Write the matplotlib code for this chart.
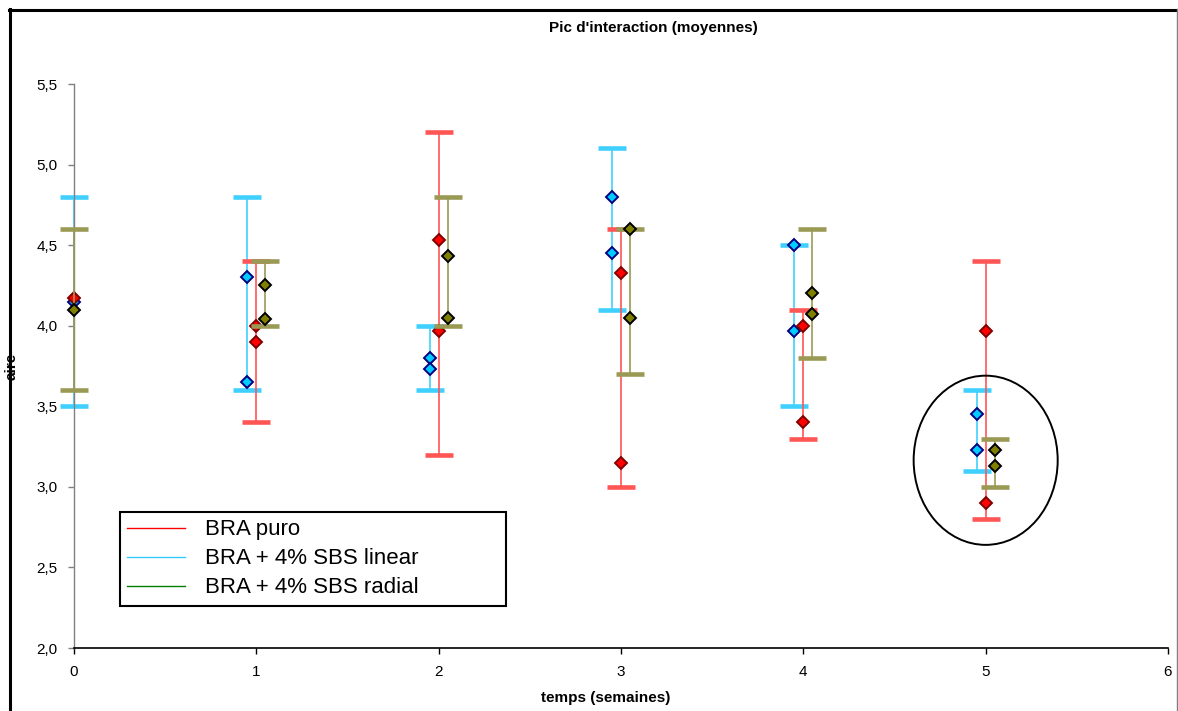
import matplotlib
matplotlib.use("Agg")
import matplotlib.pyplot as plt
import numpy as np
from matplotlib.lines import Line2D
from matplotlib.patches import Ellipse
from matplotlib.ticker import FuncFormatter, FixedLocator

plt.rcParams['font.family'] = ['Liberation Sans', 'DejaVu Sans']

# ---------------- data ----------------
weeks = [0, 1, 2, 3, 4, 5]
series_names = ["BRA puro", "BRA + 4% SBS linear", "BRA + 4% SBS radial"]

# BRA puro (red)
red_m1 = [4.17, 4.00, 4.53, 4.33, 4.00, 3.97]
red_m2 = [np.nan, 3.90, 3.97, 3.15, 3.40, 2.90]
red_hi = [np.nan, 4.40, 5.20, 4.60, 4.10, 4.40]
red_lo = [np.nan, 3.40, 3.20, 3.00, 3.30, 2.80]

# BRA + 4% SBS linear (cyan)
cyan_m1 = [4.15, 4.30, 3.80, 4.80, 4.50, 3.45]
cyan_m2 = [np.nan, 3.65, 3.73, 4.45, 3.97, 3.23]
cyan_hi = [4.80, 4.80, 4.00, 5.10, 4.50, 3.60]
cyan_lo = [3.50, 3.60, 3.60, 4.10, 3.50, 3.10]

# BRA + 4% SBS radial (olive)
olive_m1 = [4.10, 4.25, 4.43, 4.60, 4.20, 3.23]
olive_m2 = [np.nan, 4.04, 4.05, 4.05, 4.07, 3.13]
olive_hi = [4.60, 4.40, 4.80, 4.60, 4.60, 3.30]
olive_lo = [3.60, 4.00, 4.00, 3.70, 3.80, 3.00]

y_ticks = [2.0, 2.5, 3.0, 3.5, 4.0, 4.5, 5.0, 5.5]
x_ticks = [0, 1, 2, 3, 4, 5, 6]

# ---------------- figure ----------------
W, H = 1178, 711
fig = plt.figure(figsize=(W / 100, H / 100), dpi=100)
ax = fig.add_axes([74 / W, 1 - 648 / H, (1168 - 74) / W, (648 - 84) / H])

styles = [
    # name, m1, m2, hi, lo, offset, cap color, bar color, face, edge
    (series_names[1], cyan_m1, cyan_m2, cyan_hi, cyan_lo, -0.05,
     '#00CCFF', '#40D0FF', '#00CCFF', '#000080'),
    (series_names[0], red_m1, red_m2, red_hi, red_lo, 0.0,
     '#FF0000', '#FF5555', '#FF0000', '#800000'),
    (series_names[2], olive_m1, olive_m2, olive_hi, olive_lo, 0.05,
     '#808000', '#9A9A55', '#808000', '#000000'),
]

z = 2
for name, m1, m2, hi, lo, off, capc, barc, face, edge in styles:
    xs = np.array([w + off if w > 0 else w for w in weeks], dtype=float)
    hi_a = np.array(hi, dtype=float)
    lo_a = np.array(lo, dtype=float)
    ok = ~np.isnan(hi_a)
    mid = (hi_a + lo_a) / 2
    err = (hi_a - lo_a) / 2
    _, caps, bars = ax.errorbar(xs[ok], mid[ok], yerr=err[ok], fmt='none',
                                ecolor=barc, elinewidth=1.2, capsize=10.3,
                                capthick=3.3, zorder=z)
    for c in caps:
        c.set_color(capc)
        c.set_zorder(z)
        c.set_clip_on(False)
    for b in bars:
        b.set_clip_on(False)
    for mv in (m1, m2):
        ax.plot(xs, mv, linestyle='none', marker='D', markersize=6.5,
                markerfacecolor=face, markeredgecolor=edge,
                markeredgewidth=1.4, zorder=z + 0.5, clip_on=False)
    z += 1

# ellipse highlighting week 5
ax.add_patch(Ellipse((5.0, 3.165), 0.79, 1.05, fill=False,
                     edgecolor='black', linewidth=1.4, zorder=10))

ax.set_xlim(0, 6)
ax.set_ylim(2.0, 5.5)
ax.xaxis.set_major_locator(FixedLocator(x_ticks))
ax.yaxis.set_major_locator(FixedLocator(y_ticks))
ax.yaxis.set_major_formatter(FuncFormatter(lambda v, p: f"{v:.1f}".replace('.', ',')))
ax.xaxis.set_major_formatter(FuncFormatter(lambda v, p: f"{int(round(v))}"))
ax.tick_params(axis='both', direction='out', length=4, width=1,
               labelsize=11, pad=8, colors='black')
ax.tick_params(axis='y', color='#808080')
for s in ('top', 'right'):
    ax.spines[s].set_visible(False)
ax.spines['left'].set_color('#808080')
ax.spines['left'].set_linewidth(1.0)
ax.spines['bottom'].set_color('black')
ax.spines['bottom'].set_linewidth(1.2)

# legend
handles = [Line2D([0], [0], color='#FF0000', lw=1.0),
           Line2D([0], [0], color='#33CCFF', lw=1.0),
           Line2D([0], [0], color='#008000', lw=1.0)]
leg = fig.legend(handles, series_names, loc='upper left',
                 bbox_to_anchor=(120 / W, 1 - 608 / H, (506 - 120) / W, 96 / H),
                 mode='expand', borderaxespad=0, fontsize=16,
                 handlelength=2.6, handletextpad=0.9, labelspacing=0.36,
                 borderpad=0.33, fancybox=False, framealpha=1,
                 edgecolor='black')
leg.get_frame().set_linewidth(1.5)
leg.set_zorder(20)

# texts
fig.text(653 / W, 1 - 28 / H, "Pic d'interaction (moyennes)", ha='center',
         va='center', fontsize=11, fontweight='bold')
fig.text(606 / W, 1 - 698 / H, "temps (semaines)", ha='center', va='center',
         fontsize=11, fontweight='bold')
fig.text(12 / W, 1 - 366 / H, "aire", ha='center', va='center', rotation=90,
         fontsize=11, fontweight='bold')

# outer frame
fig.add_artist(Line2D([9 / W, 1], [1 - 9.5 / H] * 2, color='black', lw=2.2,
                      transform=fig.transFigure))
fig.add_artist(Line2D([10 / W] * 2, [0, 1 - 9 / H], color='black', lw=2.2,
                      transform=fig.transFigure))
fig.add_artist(Line2D([1176.5 / W] * 2, [0, 1 - 9 / H], color='#808080', lw=1,
                      transform=fig.transFigure))

fig.savefig("out.png", dpi=100)
